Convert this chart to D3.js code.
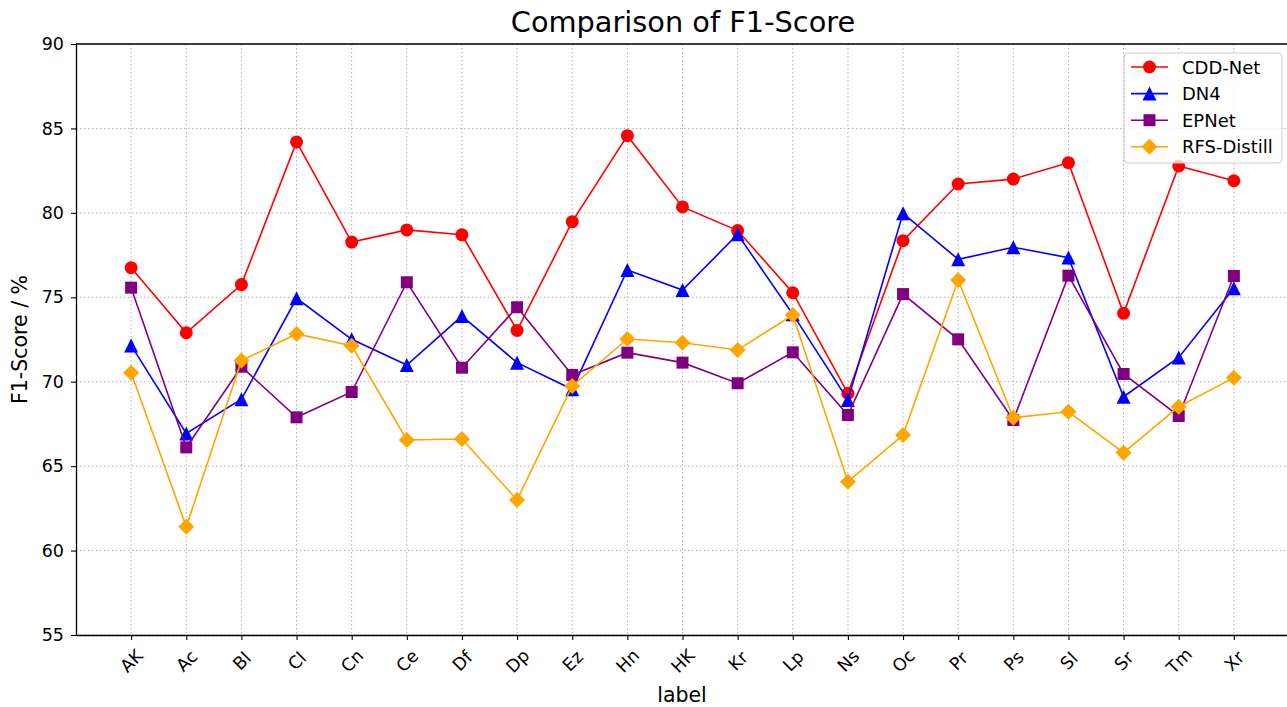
<!DOCTYPE html>
<html>
<head>
<meta charset="utf-8">
<script src="https://cdn.jsdelivr.net/npm/d3@7"></script>
<style>
  html, body { margin: 0; padding: 0; background: #fff; overflow: hidden; }
  text { font-family: "DejaVu Sans", sans-serif; fill: #000; }
</style>
</head>
<body>
<svg id="chart" width="1287" height="707"></svg>
<script>
const categories = ["AK","Ac","Bl","Cl","Cn","Ce","Df","Dp","Ez","Hn","HK","Kr","Lp","Ns","Oc","Pr","Ps","Sl","Sr","Tm","Xr"];
const cddNet   = [76.75, 72.9, 75.75, 84.2, 78.27, 78.99, 78.7, 73.04, 79.48, 84.57, 80.35, 78.95, 75.27, 69.31, 78.35, 81.71, 82.0, 82.97, 74.05, 82.78, 81.9];
const dn4      = [72.15, 66.94, 68.96, 74.94, 72.51, 70.99, 73.89, 71.13, 69.55, 76.62, 75.43, 78.73, 74.0, 68.92, 79.97, 77.25, 77.96, 77.35, 69.11, 71.44, 75.53];
const epNet    = [75.57, 66.11, 70.89, 67.89, 69.39, 75.89, 70.83, 74.41, 70.4, 71.72, 71.13, 69.91, 71.74, 68.03, 75.19, 72.51, 67.73, 76.28, 70.46, 67.97, 76.26];
const rfsDistill = [70.53, 61.41, 71.25, 72.83, 72.13, 66.55, 66.61, 63.0, 69.75, 72.53, 72.31, 71.88, 73.95, 64.08, 66.84, 76.02, 67.87, 68.22, 65.8, 68.52, 70.24];
const yTicks = [55, 60, 65, 70, 75, 80, 85, 90];
const seriesNames = ["CDD-Net", "DN4", "EPNet", "RFS-Distill"];
const seriesColors = ["#ff0000", "#0000ff", "#800080", "#ffa500"];
const seriesMarkers = ["circle", "triangle", "square", "diamond"];
const seriesValues = [cddNet, dn4, epNet, rfsDistill];

const svg = d3.select("#chart");
const mLeft = 76, mTop = 44, mBottom = 635, mRight = 1289;

const x = d3.scaleLinear().domain([-1, categories.length]).range([mLeft, mRight]);
const y = d3.scaleLinear().domain([55, 90]).range([mBottom, mTop]);

function markerPath(type) {
  if (type === "circle") return d3.symbol().type(d3.symbolCircle).size(Math.PI * 6.5 * 6.5)();
  if (type === "square") return "M-6,-6L6,-6L6,6L-6,6Z";
  if (type === "diamond") return "M0,-8L8,0L0,8L-8,0Z";
  if (type === "triangle") return "M0,-7L7,7L-7,7Z";
}

// grid
const grid = svg.append("g");
grid.selectAll("line.gx").data(categories).enter().append("line")
  .attr("x1", (d, i) => x(i)).attr("x2", (d, i) => x(i))
  .attr("y1", mTop).attr("y2", mBottom)
  .attr("stroke", "#b0b0b0").attr("stroke-width", 1).attr("stroke-dasharray", "1.5,2.5");
grid.selectAll("line.gy").data(yTicks).enter().append("line")
  .attr("x1", mLeft).attr("x2", mRight)
  .attr("y1", d => y(d)).attr("y2", d => y(d))
  .attr("stroke", "#b0b0b0").attr("stroke-width", 1).attr("stroke-dasharray", "1.5,2.5");

// series
const line = d3.line().x((d, i) => x(i)).y(d => y(d));
seriesValues.forEach((vals, si) => {
  const g = svg.append("g");
  g.append("path").datum(vals).attr("d", line)
    .attr("fill", "none").attr("stroke", seriesColors[si]).attr("stroke-width", 1.6);
  g.selectAll("path.m").data(vals).enter().append("path")
    .attr("d", markerPath(seriesMarkers[si]))
    .attr("transform", (d, i) => `translate(${x(i)},${y(d)})`)
    .attr("fill", seriesColors[si]);
});

// axes
const xAxis = d3.axisBottom(x).tickValues(d3.range(categories.length))
  .tickFormat(i => categories[i]).tickSize(5).tickSizeOuter(0);
const gx = svg.append("g").attr("transform", `translate(0,${mBottom})`).call(xAxis);
gx.select(".domain").attr("stroke", "#000").attr("stroke-width", 1.3);
gx.selectAll(".tick line").attr("stroke", "#000").attr("stroke-width", 1.1);
gx.selectAll(".tick text")
  .attr("font-size", 17.5).attr("font-family", "DejaVu Sans")
  .attr("text-anchor", "middle").attr("dominant-baseline", "central")
  .attr("x", 0).attr("y", 0).attr("dy", null)
  .attr("transform", "translate(0,26) rotate(-45)");

const yAxis = d3.axisLeft(y).tickValues(yTicks).tickSize(5).tickSizeOuter(0);
const gy = svg.append("g").attr("transform", `translate(${mLeft},0)`).call(yAxis);
gy.select(".domain").attr("stroke", "#000").attr("stroke-width", 1.3);
gy.selectAll(".tick line").attr("stroke", "#000").attr("stroke-width", 1.1);
gy.selectAll(".tick text").attr("font-size", 17.5).attr("font-family", "DejaVu Sans").attr("x", -12);

// top / right spines
svg.append("line").attr("x1", mLeft).attr("x2", mRight).attr("y1", mTop).attr("y2", mTop)
  .attr("stroke", "#000").attr("stroke-width", 1.3);
svg.append("line").attr("x1", mRight).attr("x2", mRight).attr("y1", mTop).attr("y2", mBottom)
  .attr("stroke", "#000").attr("stroke-width", 1.3);

// title & labels
svg.append("text").attr("x", 683).attr("y", 32).attr("text-anchor", "middle")
  .attr("font-size", 28.8).text("Comparison of F1-Score");
svg.append("text").attr("x", 682).attr("y", 702).attr("text-anchor", "middle")
  .attr("font-size", 20.5).text("label");
svg.append("text").attr("transform", `translate(27,${(mTop + mBottom) / 2}) rotate(-90)`)
  .attr("text-anchor", "middle").attr("font-size", 20.5).text("F1-Score / %");

// legend
const lg = svg.append("g");
lg.append("rect").attr("x", 1124).attr("y", 53).attr("width", 158).attr("height", 110)
  .attr("rx", 4).attr("fill", "#fff").attr("fill-opacity", 0.8)
  .attr("stroke", "#cccccc").attr("stroke-width", 1);
seriesNames.forEach((name, si) => {
  const yy = 67 + si * 26.6;
  lg.append("line").attr("x1", 1131).attr("x2", 1168).attr("y1", yy).attr("y2", yy)
    .attr("stroke", seriesColors[si]).attr("stroke-width", 1.6);
  lg.append("path").attr("d", markerPath(seriesMarkers[si]))
    .attr("transform", `translate(1149.5,${yy})`).attr("fill", seriesColors[si]);
  lg.append("text").attr("x", 1182).attr("y", yy).attr("dominant-baseline", "central")
    .attr("font-size", 18).text(name);
});
</script>
</body>
</html>
